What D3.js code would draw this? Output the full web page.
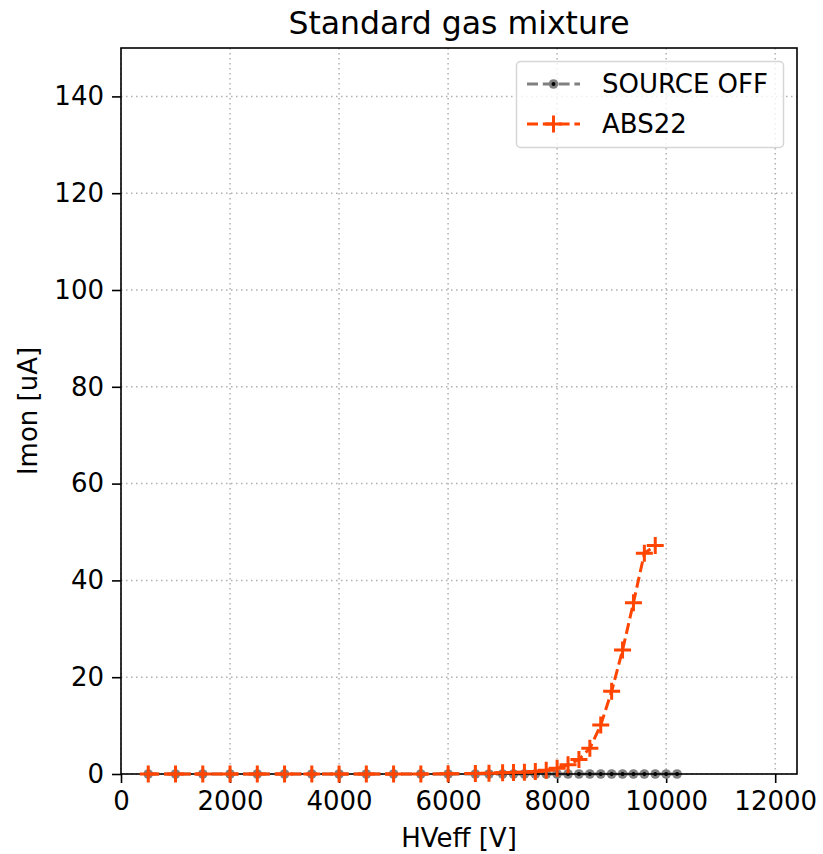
<!DOCTYPE html>
<html>
<head>
<meta charset="utf-8">
<script src="https://cdn.jsdelivr.net/npm/d3@7"></script>
<style>
  body { margin: 0; background: #fff; }
  text { font-family: "DejaVu Sans", sans-serif; fill: #000; }
</style>
</head>
<body>
<script>
// HVeff points (V)
var hvOff = [500, 1000, 1500, 2000, 2500, 3000, 3500, 4000, 4500, 5000, 5500, 6000,
             6500, 6750, 7000, 7200, 7400, 7600, 7800, 8000, 8200, 8400, 8600, 8800,
             9000, 9200, 9400, 9600, 9800, 10000, 10200];
var imonOff = [0, 0, 0, 0, 0, 0, 0, 0, 0, 0, 0, 0,
               0, 0, 0, 0, 0, 0, 0, 0, 0, 0, 0, 0,
               0, 0, 0, 0, 0, 0, 0];

var hvAbs = [500, 1000, 1500, 2000, 2500, 3000, 3500, 4000, 4500, 5000, 5500, 6000,
             6500, 6750, 7000, 7200, 7400, 7600, 7800, 8000, 8200, 8400, 8600, 8800,
             9000, 9200, 9400, 9600, 9800];
var imonAbs = [0, 0, 0, 0, 0, 0, 0, 0, 0, 0, 0, 0.05,
               0.1, 0.15, 0.25, 0.3, 0.35, 0.5, 0.8, 1.2, 1.9, 3.0, 5.3, 10.1,
               17.1, 25.6, 35.4, 45.6, 47.2];

var xTicks = [0, 2000, 4000, 6000, 8000, 10000, 12000];
var yTicks = [0, 20, 40, 60, 80, 100, 120, 140];
var seriesNames = ["SOURCE OFF", "ABS22"];

var w = 823, h = 854;
var pLeft = 121, pRight = 797, pTop = 48, pBottom = 774;
var fs = 26;  // tick / label font size
var lw = 3, dash = "11,4.8";

var x = d3.scaleLinear().domain([0, 12400]).range([pLeft, pRight]);
var y = d3.scaleLinear().domain([0, 150]).range([pBottom, pTop]);

var svg = d3.select("body").append("svg")
    .attr("width", w)
    .attr("height", h);

// grid
svg.append("g").selectAll("line").data(xTicks).enter().append("line")
    .attr("x1", function(d) { return x(d); })
    .attr("x2", function(d) { return x(d); })
    .attr("y1", pTop).attr("y2", pBottom)
    .attr("stroke", "#b0b0b0").attr("stroke-width", 1.5)
    .attr("stroke-dasharray", "1.5,3.5");
svg.append("g").selectAll("line").data(yTicks).enter().append("line")
    .attr("y1", function(d) { return y(d); })
    .attr("y2", function(d) { return y(d); })
    .attr("x1", pLeft).attr("x2", pRight)
    .attr("stroke", "#b0b0b0").attr("stroke-width", 1.5)
    .attr("stroke-dasharray", "1.5,3.5");

// axes
var xAxis = svg.append("g")
    .attr("transform", "translate(0," + pBottom + ")")
    .call(d3.axisBottom(x).tickValues(xTicks).tickSize(9).tickPadding(9).tickFormat(d3.format("d")));
var yAxis = svg.append("g")
    .attr("transform", "translate(" + pLeft + ",0)")
    .call(d3.axisLeft(y).tickValues(yTicks).tickSize(9).tickPadding(8).tickFormat(d3.format("d")));
[xAxis, yAxis].forEach(function(a) {
  a.select(".domain").remove();
  a.selectAll("line").attr("stroke", "#000").attr("stroke-width", 1.6);
  a.selectAll("text").style("font-size", fs + "px").attr("font-family", "DejaVu Sans");
});

var line = d3.line()
    .x(function(d) { return x(d[0]); })
    .y(function(d) { return y(d[1]); });

var offData = d3.zip(hvOff, imonOff);
var absData = d3.zip(hvAbs, imonAbs);

// SOURCE OFF
svg.append("path").datum(offData)
    .attr("d", line)
    .attr("fill", "none").attr("stroke", "#808080")
    .attr("stroke-width", lw).attr("stroke-dasharray", dash);
svg.append("g").selectAll("circle").data(offData).enter().append("circle")
    .attr("cx", function(d) { return x(d[0]); })
    .attr("cy", function(d) { return y(d[1]); })
    .attr("r", 4.8).attr("fill", "#808080");
svg.append("g").selectAll("circle").data(offData).enter().append("circle")
    .attr("cx", function(d) { return x(d[0]); })
    .attr("cy", function(d) { return y(d[1]); })
    .attr("r", 2).attr("fill", "#000");

// frame
svg.append("rect")
    .attr("x", pLeft).attr("y", pTop)
    .attr("width", pRight - pLeft).attr("height", pBottom - pTop)
    .attr("fill", "none").attr("stroke", "#000").attr("stroke-width", 1.6);

// ABS22
svg.append("path").datum(absData)
    .attr("d", line)
    .attr("fill", "none").attr("stroke", "#ff4500")
    .attr("stroke-width", lw).attr("stroke-dasharray", dash);
svg.append("g").selectAll("path").data(absData).enter().append("path")
    .attr("d", function(d) {
      var cx = x(d[0]), cy = y(d[1]), s = 8.5;
      return "M" + (cx - s) + "," + cy + "H" + (cx + s) + "M" + cx + "," + (cy - s) + "V" + (cy + s);
    })
    .attr("stroke", "#ff4500").attr("stroke-width", 3).attr("fill", "none");

// labels
svg.append("text")
    .attr("x", (pLeft + pRight) / 2).attr("y", 34)
    .attr("text-anchor", "middle").style("font-size", "31.5px")
    .text("Standard gas mixture");
svg.append("text")
    .attr("x", (pLeft + pRight) / 2).attr("y", 847)
    .attr("text-anchor", "middle").style("font-size", fs + "px")
    .text("HVeff [V]");
svg.append("text")
    .attr("transform", "translate(37," + ((pTop + pBottom) / 2) + ") rotate(-90)")
    .attr("text-anchor", "middle").style("font-size", fs + "px")
    .text("Imon [uA]");

// legend
var lg = svg.append("g");
lg.append("rect")
    .attr("x", 516.5).attr("y", 61.5).attr("width", 267).attr("height", 86)
    .attr("rx", 4).attr("fill", "#fff").attr("fill-opacity", 0.8)
    .attr("stroke", "#d6d6d6").attr("stroke-width", 1.5);
var rows = [84, 124];
seriesNames.forEach(function(name, i) {
  var cy = rows[i];
  var col = i === 0 ? "#808080" : "#ff4500";
  lg.append("line")
      .attr("x1", 527).attr("x2", 580).attr("y1", cy).attr("y2", cy)
      .attr("stroke", col).attr("stroke-width", lw).attr("stroke-dasharray", dash);
  if (i === 0) {
    lg.append("circle").attr("cx", 553.5).attr("cy", cy).attr("r", 4.8).attr("fill", "#808080");
    lg.append("circle").attr("cx", 553.5).attr("cy", cy).attr("r", 2).attr("fill", "#000");
  } else {
    lg.append("path")
        .attr("d", "M545," + cy + "H562M553.5," + (cy - 8.5) + "V" + (cy + 8.5))
        .attr("stroke", col).attr("stroke-width", 3);
  }
  lg.append("text")
      .attr("x", 602).attr("y", cy).attr("dy", "0.36em")
      .style("font-size", fs + "px")
      .text(name);
});
</script>
</body>
</html>
